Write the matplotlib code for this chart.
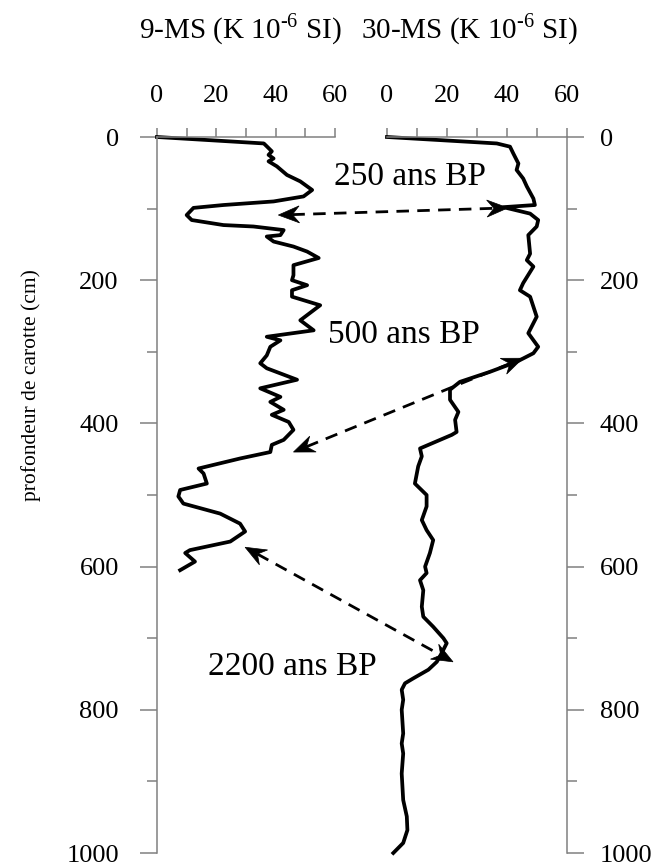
import matplotlib
matplotlib.use("Agg")
import numpy as np
import matplotlib.pyplot as plt
from matplotlib.patches import Polygon
from matplotlib.lines import Line2D
from matplotlib.transforms import IdentityTransform

plt.rcParams['font.family'] = ['Liberation Serif', 'DejaVu Serif']
plt.rcParams['mathtext.fontset'] = 'custom'
plt.rcParams['mathtext.rm'] = 'Liberation Serif'

# core 9: depth (cm) / magnetic susceptibility
depth_9 = [0, 9, 13, 20, 25, 30, 34, 41, 53, 62, 74, 83, 90, 95, 99, 109, 116, 123, 125,
           130, 137, 139, 146, 153, 160, 169, 179, 193, 200, 207, 214, 223, 235, 256, 270,
           279, 284, 293, 305, 316, 323, 339, 351, 363, 370, 381, 388, 398, 409, 423, 430,
           440, 449, 463, 470, 484, 493, 502, 512, 526, 540, 551, 565, 577, 581, 593, 605]
ms_9 = [0, 36, 37, 38.7, 37.6, 39.3, 37.6, 40.4, 43.8, 48.3, 52.3, 49.4, 39.3, 22.4, 12.3,
        10, 11.7, 22.4, 32.5, 42.7, 41.6, 37, 39.3, 46, 50.6, 54.5, 46, 46, 45.5, 50.6, 45.5,
        45.5, 55, 48.3, 52.8, 37, 41.6, 38.2, 37, 34.8, 37, 47.2, 34.8, 41.6, 38.2, 42.7, 38.7,
        44.4, 46, 42.7, 38.7, 38.2, 28, 14, 15.7, 16.8, 7.8, 7.2, 8.9, 21.3, 28, 29.7, 24.7,
        11.1, 9.5, 12.8, 7.8]

# core 30
depth_30 = [0, 9, 13.5, 23, 37, 46, 58, 69, 86, 95, 98, 107, 116, 125, 137, 163, 172, 181,
            204, 214, 223, 237, 251, 274, 293, 302, 314, 328, 342, 353, 367, 384, 395, 412,
            416, 435, 446, 460, 484, 500, 516, 535, 549, 563, 581, 600, 609, 619, 633, 656,
            670, 684, 700, 707, 721, 733, 744, 756, 763, 772, 786, 800, 833, 847, 861, 889,
            926, 949, 968, 986, 1000]
ms_30 = [0, 36.6, 41, 42.1, 43.8, 43.2, 45.4, 46.6, 48.8, 49.3, 38.8, 47.7, 50.4, 49.9, 47.1,
         47.7, 46.6, 48.8, 45.4, 44.3, 47.7, 48.8, 49.9, 47.1, 50.4, 48.8, 43.2, 34.3, 24.3, 21,
         21, 23.8, 22.7, 23.2, 21.6, 11, 11.6, 10.4, 9.3, 13.2, 13.2, 11.6, 13.2, 15.4, 14.3,
         12.7, 13.2, 11, 12.1, 11.6, 12.1, 15.4, 18.8, 19.9, 18.2, 16.6, 13.8, 8.8, 6, 4.9, 5.4,
         4.9, 5.4, 4.9, 5.4, 4.9, 5.4, 6.6, 6.8, 5.4, 2.1]

# correlation arrows: (core 9 point) <-> (core 30 point), as (ms, depth)
links = [((40.9, 109), (40.3, 99)),
         ((46, 440), (45.3, 309)),
         ((29.7, 573), (22, 733))]
ages = ["250 ans BP", "500 ans BP", "2200 ans BP"]

W, H = 663, 865
fig = plt.figure(figsize=(W / 100, H / 100), dpi=100)
ax1 = fig.add_axes([157 / W, 1 - 853 / H, (335 - 157) / W, (853 - 137) / H])
ax2 = fig.add_axes([387 / W, 1 - 853 / H, (567 - 387) / W, (853 - 137) / H])

gray = '#808080'
for ax, side in ((ax1, 'left'), (ax2, 'right')):
    ax.set_xlim(0, 60)
    ax.set_ylim(1000, 0)
    for s in ('left', 'right', 'top', 'bottom'):
        ax.spines[s].set_visible(s in (side, 'top'))
        ax.spines[s].set_color(gray)
        ax.spines[s].set_linewidth(1.1)
    ax.xaxis.tick_top()
    ax.set_xticks([0, 20, 40, 60])
    ax.set_xticks([10, 30, 50], minor=True)
    ax.tick_params(axis='x', which='both', length=6.5, width=1.1, color=gray,
                   labelsize=19, pad=15)
    if side == 'right':
        ax.yaxis.tick_right()
    ax.set_yticks(range(0, 1001, 200))
    ax.set_yticks(range(100, 1000, 200), minor=True)
    ax.tick_params(axis='y', which='major', length=12.5, width=1.1, color=gray,
                   labelsize=19, pad=15 if side == 'left' else 11)
    ax.tick_params(axis='y', which='minor', length=7, width=1.1, color=gray)
    ax.patch.set_visible(False)

ax1.plot(ms_9, depth_9, color='black', lw=2.7, solid_joinstyle='round', clip_on=False)
ax2.plot(ms_30, depth_30, color='black', lw=2.7, solid_joinstyle='round', clip_on=False)


def head(tip, u, L=21, w=8.5, notch=7):
    n = np.array([-u[1], u[0]])
    pts = [tip, tip - L * u + w * n, tip - (L - notch) * u, tip - L * u - w * n]
    fig.add_artist(Polygon(pts, closed=True, fc='black', ec='black', lw=0.5,
                           transform=IdentityTransform()))
    return tip - (L - notch) * u


for (pa, pb) in links:
    a = ax1.transData.transform(pa)
    b = ax2.transData.transform(pb)
    u = (b - a) / np.hypot(*(b - a))
    a2 = head(a, -u)
    b2 = head(b, u)
    fig.add_artist(Line2D([a2[0], b2[0]], [a2[1], b2[1]], color='black', lw=2,
                          linestyle=(0, (4.5, 3)), transform=IdentityTransform()))

fig.text(410 / W, 1 - 185 / H, ages[0], ha='center', va='baseline', fontsize=24)
fig.text(404 / W, 1 - 343 / H, ages[1], ha='center', va='baseline', fontsize=24)
fig.text(292 / W, 1 - 675 / H, ages[2], ha='center', va='baseline', fontsize=24)

fig.text(240 / W, 1 - 38 / H, '9-MS (K 10$^{\\mathrm{\u20106}}$ SI)', ha='center',
         va='baseline', fontsize=21)
fig.text(470 / W, 1 - 38 / H, '30-MS (K 10$^{\\mathrm{\u20106}}$ SI)', ha='center',
         va='baseline', fontsize=21)
fig.text(31 / W, 1 - 385 / H, 'profondeur de carotte (cm)', rotation=90,
         ha='center', va='center', fontsize=15.5)

fig.savefig('out.png', dpi=100)
